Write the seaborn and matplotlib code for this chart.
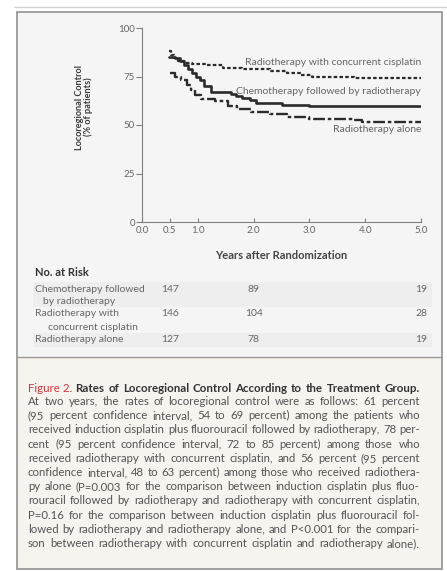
import matplotlib
matplotlib.use("Agg")
import matplotlib.pyplot as plt
import matplotlib.transforms as mtransforms
from matplotlib.patches import Rectangle
from matplotlib.lines import Line2D
import seaborn as sns

# Kaplan-Meier style step data (years, % locoregional control)
years_chemo = [0.48, 0.6, 0.68, 0.75, 0.82, 0.9, 0.97, 1.04, 1.12, 1.24, 1.6,
               1.68, 1.8, 1.94, 2.05, 2.5, 3.0, 5.0]
ctrl_chemo = [85, 84.5, 83, 81, 79, 77, 75, 73, 70, 67, 66, 65, 64, 63, 61.5,
              60.5, 60, 60]

years_cc = [0.48, 0.52, 0.58, 0.65, 0.75, 0.9, 1.15, 1.45, 1.8, 2.3, 2.6,
            2.85, 3.05, 3.8, 5.0]
ctrl_cc = [88, 86, 84.5, 83, 82, 81.5, 81, 79.5, 79, 78, 77, 76, 75, 74, 74]

years_ra = [0.5, 0.6, 0.7, 0.8, 0.87, 0.95, 1.05, 1.3, 1.55, 1.7, 1.95, 2.3,
            2.6, 3.0, 3.8, 3.95, 5.0]
ctrl_ra = [77, 75, 73, 70.5, 68, 65.5, 63.5, 62.5, 60, 58, 56.5, 55.5, 54, 53,
           52.5, 51.5, 51.5]

curve_labels = ["Radiotherapy with concurrent cisplatin",
                "Chemotherapy followed by radiotherapy",
                "Radiotherapy alone"]
label_y = [82, 67.3, 47.7]

x_ticks = [0.0, 0.5, 1.0, 2.0, 3.0, 4.0, 5.0]
y_ticks = [0, 25, 50, 75, 100]

risk_times = [0.5, 2.0, 5.0]
risk_rows = ["Chemotherapy followed\n   by radiotherapy",
             "Radiotherapy with\n     concurrent cisplatin",
             "Radiotherapy alone"]
risk_chemo = [147, 89, 19]
risk_cc = [146, 104, 28]
risk_ra = [127, 78, 19]

caption_title = "Rates of Locoregional Control According to the Treatment Group."
caption_lines = [
    "At two years, the rates of locoregional control were as follows: 61 percent",
    "(95 percent confidence interval, 54 to 69 percent) among the patients who",
    "received induction cisplatin plus fluorouracil followed by radiotherapy, 78 per-",
    "cent (95 percent confidence interval, 72 to 85 percent) among those who",
    "received radiotherapy with concurrent cisplatin, and 56 percent (95 percent",
    "confidence interval, 48 to 63 percent) among those who received radiothera-",
    "py alone (P=0.003 for the comparison between induction cisplatin plus fluo-",
    "rouracil followed by radiotherapy and radiotherapy with concurrent cisplatin,",
    "P=0.16 for the comparison between induction cisplatin plus fluorouracil fol-",
    "lowed by radiotherapy and radiotherapy alone, and P<0.001 for the compari-",
    "son between radiotherapy with concurrent cisplatin and radiotherapy alone).",
]

sns.set_theme(style="ticks")
plt.rcParams["font.family"] = ["Lato", "DejaVu Sans"]

W, H = 447, 571
fig = plt.figure(figsize=(W / 100, H / 100), dpi=100)
fig.patch.set_facecolor("white")
renderer = fig.canvas.get_renderer()


def fx(px):
    return px / W


def fy(py):
    return 1 - py / H


def justified(x0, x1, y, line, **kw):
    # place words one by one so the line fills x0..x1 like the printed caption
    words = line.split(" ")
    texts = [fig.text(0, fy(y), w, va="center", **kw) for w in words]
    widths = [t.get_window_extent(renderer=renderer).width for t in texts]
    gap = (x1 - x0 - sum(widths)) / max(len(words) - 1, 1)
    x = x0
    for t, w in zip(texts, widths):
        t.set_x(fx(x))
        x += w + gap


# panel backgrounds and frame
fig.add_artist(Line2D([fx(14), fx(447)], [fy(7), fy(7)], color="#d4d4d4",
                      lw=1.0, transform=fig.transFigure))
fig.add_artist(Rectangle((fx(17), fy(357)), fx(442) - fx(17), fy(12) - fy(357),
                         transform=fig.transFigure, facecolor="#f5f5f5",
                         edgecolor="none", zorder=0))
fig.add_artist(Rectangle((fx(17), fy(569)), fx(442) - fx(17), fy(357) - fy(569),
                         transform=fig.transFigure, facecolor="#f7f3ee",
                         edgecolor="none", zorder=0))
fig.add_artist(Rectangle((fx(17), fy(569)), fx(442) - fx(17), fy(12) - fy(569),
                         transform=fig.transFigure, facecolor="none",
                         edgecolor="#9a9a9a", lw=1.3, zorder=1))
fig.add_artist(Line2D([fx(17), fx(442)], [fy(357), fy(357)], color="#9a9a9a",
                      lw=1.0, transform=fig.transFigure))

# risk table row shading
for top, bot in [(282, 307), (333, 347)]:
    fig.add_artist(Rectangle((fx(33), fy(bot)), fx(432) - fx(33), fy(top) - fy(bot),
                             transform=fig.transFigure, facecolor="#eeeeee",
                             edgecolor="none", zorder=0))

ax = fig.add_axes([fx(142), fy(222), fx(421) - fx(142), fy(28) - fy(222)])
ax.patch.set_alpha(0)

line_col = "#2b2b2b"
sns.lineplot(x=years_cc, y=ctrl_cc, ax=ax, color=line_col, lw=1.6,
             drawstyle="steps-post", estimator=None, linestyle=(0, (1.6, 1.0)))
sns.lineplot(x=years_chemo, y=ctrl_chemo, ax=ax, color=line_col, lw=1.9,
             drawstyle="steps-post", estimator=None)
sns.lineplot(x=years_ra, y=ctrl_ra, ax=ax, color=line_col, lw=1.7,
             drawstyle="steps-post", estimator=None,
             linestyle=(0, (5, 1.2, 1.5, 1.2)))

for lab, yv in zip(curve_labels, label_y):
    ax.text(5.0, yv, lab, ha="right", va="center", fontsize=7.5, color="#666666")

ax.set_xlim(0, 5)
ax.set_ylim(0, 100)
ax.set_xticks(x_ticks)
ax.set_xticklabels([f"{v:.1f}" for v in x_ticks])
ax.set_yticks(y_ticks)
ax.set_yticklabels([str(v) for v in y_ticks])
sns.despine(ax=ax)
for sp in ["left", "bottom"]:
    ax.spines[sp].set_color("#808080")
    ax.spines[sp].set_linewidth(0.8)
ax.tick_params(axis="y", direction="out", length=4, width=0.8, color="#808080",
               labelsize=7, labelcolor="#666666", pad=1)
ax.tick_params(axis="x", direction="in", length=3, width=0.8, color="#808080",
               labelsize=7, labelcolor="#666666", pad=3)
ax.set_xlabel("Years after Randomization", fontsize=8, fontweight="bold",
              color="#444444", labelpad=11)
ax.set_ylabel("")
fig.text(fx(84), fy(107), "Locoregional Control\n(% of patients)", rotation=90,
         ha="center", va="center", fontsize=6.6, fontweight="bold",
         color="#3a3a3a", linespacing=1.05)

# number at risk table
fig.text(fx(35), fy(273), "No. at Risk", fontsize=8, fontweight="bold",
         color="#333333", va="center")
blend = mtransforms.blended_transform_factory(ax.transData, fig.transFigure)
row_y = [289, 314, 340]
for name, yy, counts in zip(risk_rows, row_y, [risk_chemo, risk_cc, risk_ra]):
    first, *rest = name.split("\n")
    fig.text(fx(35), fy(yy), first, fontsize=7.5, color="#666666", va="center")
    if rest:
        fig.text(fx(35), fy(yy + 13), rest[0], fontsize=7.5, color="#666666",
                 va="center")
    for t, c in zip(risk_times, counts):
        fig.text(t, fy(yy), str(c), transform=blend, ha="center", va="center",
                 fontsize=7.5, color="#666666")

# caption
t1 = fig.text(fx(28), fy(388), "Figure 2.", fontsize=8.3, color="#d2343e",
              va="center")
bb = t1.get_window_extent(renderer=renderer)
title_x0 = bb.x1 + 3
justified(title_x0, 420, 388, caption_title, fontsize=8.3, fontweight="bold",
          color="#333333")
for i, line in enumerate(caption_lines):
    justified(28, 420, 401.5 + i * 14.2, line, fontsize=8.2, color="#555555")

fig.savefig("out.png", dpi=100)
